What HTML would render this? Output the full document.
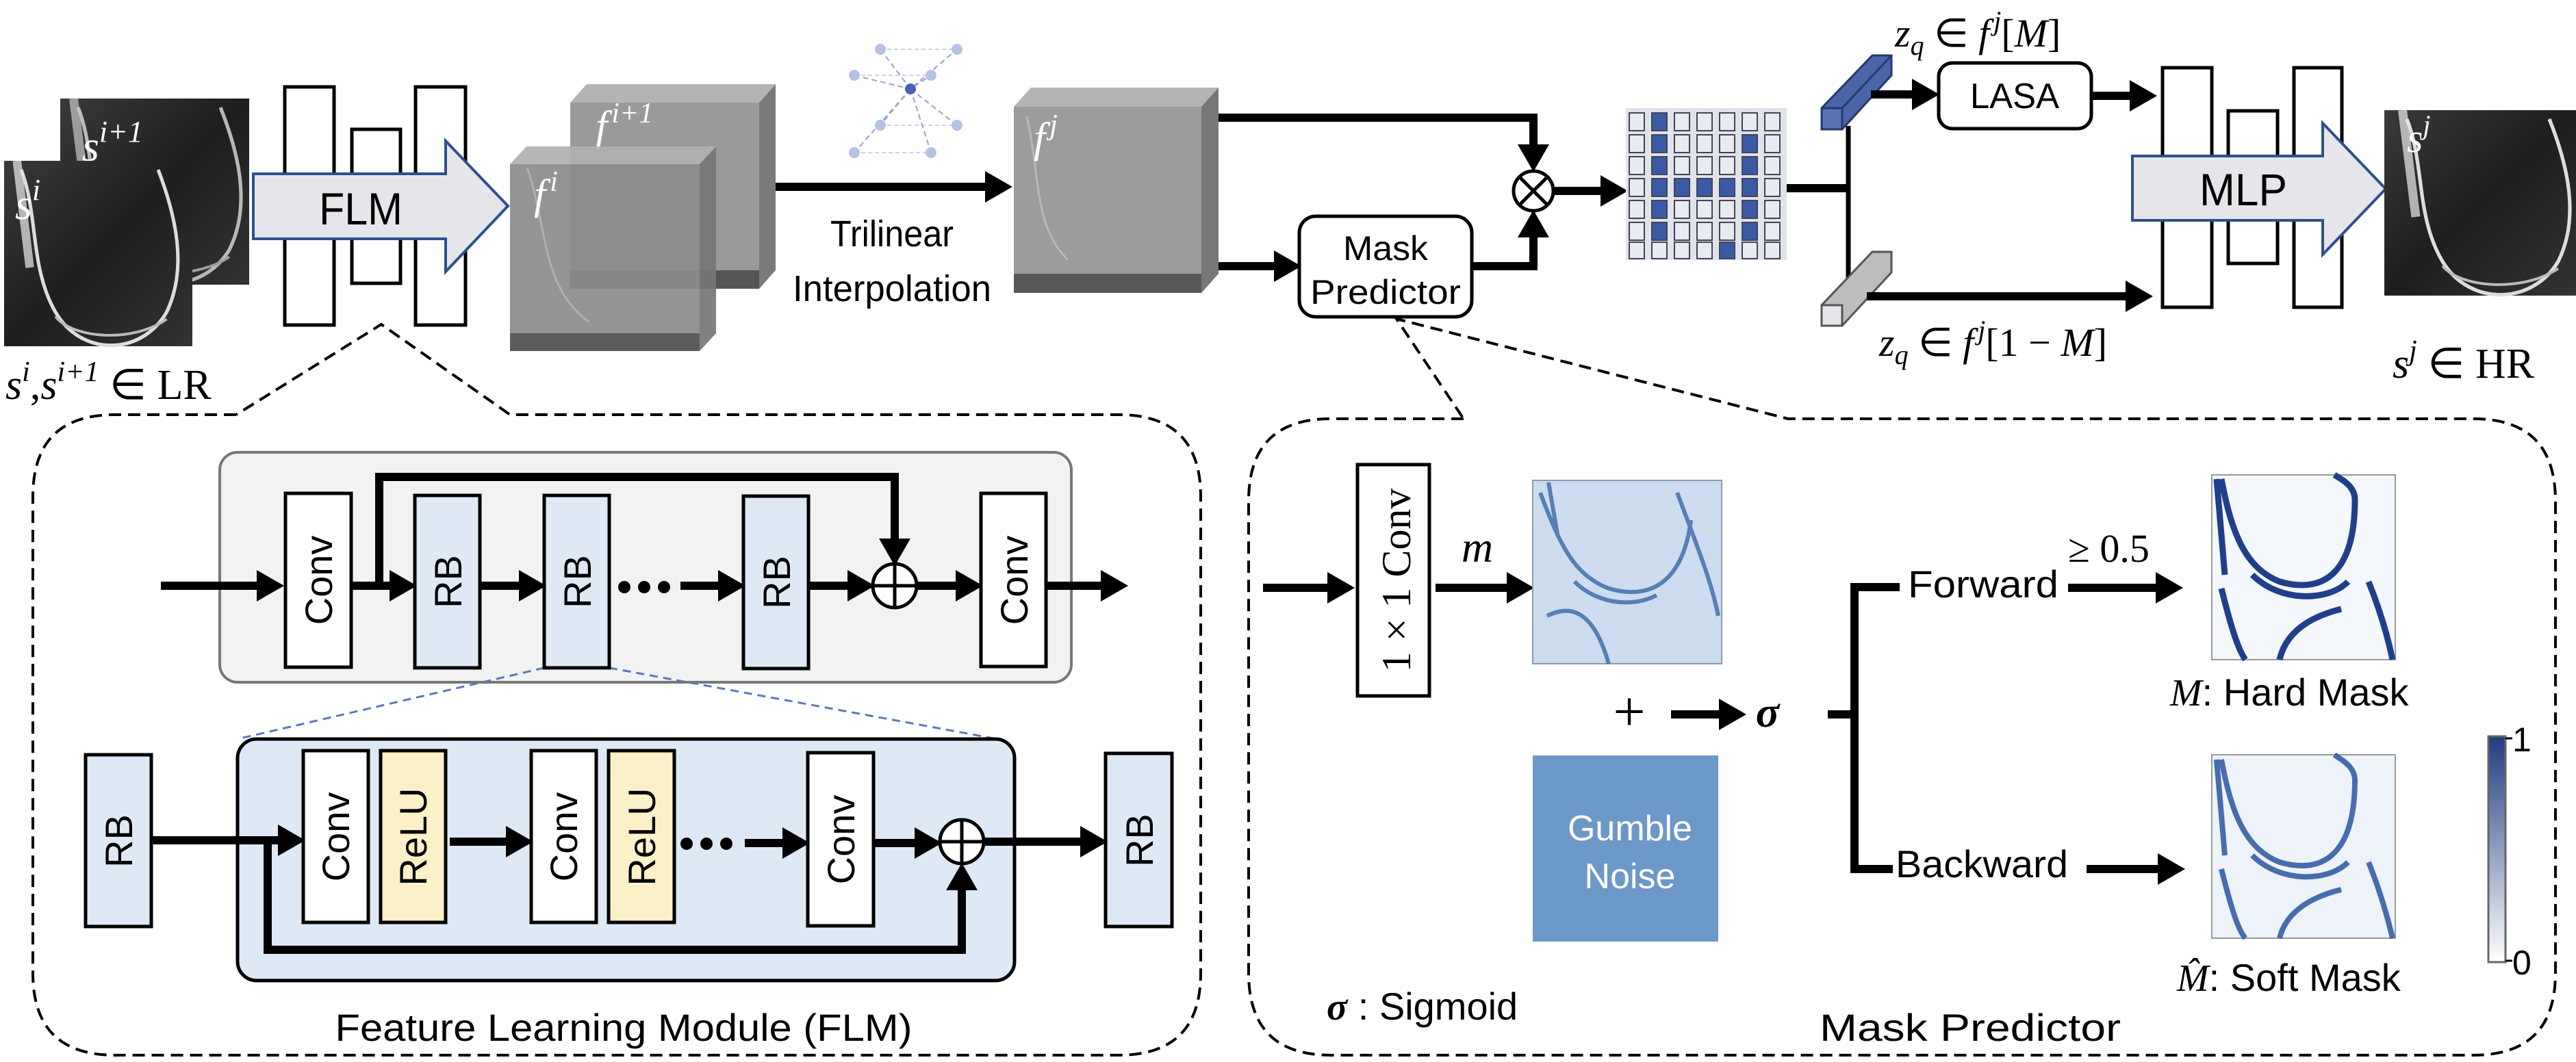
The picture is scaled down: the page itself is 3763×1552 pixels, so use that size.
<!DOCTYPE html>
<html><head><meta charset="utf-8"><style>html,body{margin:0;padding:0;background:#fff}svg{display:block}</style></head><body>
<svg xmlns="http://www.w3.org/2000/svg" width="3763" height="1552" viewBox="0 0 3763 1552" font-family="Liberation Sans, sans-serif">
<defs>
<marker id="ah" markerUnits="userSpaceOnUse" markerWidth="40" markerHeight="46" viewBox="0 0 40 46" refX="1" refY="23" orient="auto"><path d="M0,0 L40,23 L0,46 z" fill="#000"/></marker>
<linearGradient id="mri" x1="0" y1="0" x2="1" y2="1"><stop offset="0" stop-color="#3a3a3a"/><stop offset="0.5" stop-color="#1e1e1e"/><stop offset="1" stop-color="#333"/></linearGradient>
<linearGradient id="cb" x1="0" y1="0" x2="0" y2="1"><stop offset="0" stop-color="#1f3d7e"/><stop offset="1" stop-color="#ffffff"/></linearGradient>
<g id="knee">
<path d="M20,10 C40,60 30,120 60,170 C90,220 160,220 190,170 C215,120 200,60 180,10" fill="none" stroke="#ddd" stroke-width="4"/>
<path d="M60,175 C80,200 150,205 190,178" fill="none" stroke="#bbb" stroke-width="3"/>
<path d="M15,0 L30,120" stroke="#eee" stroke-width="10" opacity="0.7"/>
</g>
</defs>

<!-- LR images -->
<rect x="88" y="144" width="276" height="272" fill="url(#mri)"/>
<g transform="translate(88,144) scale(1.3,1.3)" opacity="0.8"><use href="#knee"/></g>
<text x="120" y="235" font-family="Liberation Serif, serif" font-style="italic" font-size="64" fill="#fff">s<tspan dy="-28" font-size="44">i+1</tspan></text>
<rect x="6" y="235" width="275" height="271" fill="url(#mri)"/>
<g transform="translate(6,235) scale(1.25,1.3)"><use href="#knee"/></g>
<text x="22" y="320" font-family="Liberation Serif, serif" font-style="italic" font-size="64" fill="#fff">s<tspan dy="-28" font-size="44">i</tspan></text>
<text x="8" y="583" font-family="Liberation Serif, serif" font-size="62"><tspan font-style="italic">s</tspan><tspan dy="-26" font-size="42" font-style="italic">i</tspan><tspan dy="26">,</tspan><tspan font-style="italic">s</tspan><tspan dy="-26" font-size="42" font-style="italic">i+1</tspan><tspan dy="26"> ∈ LR</tspan></text>

<!-- encoder bars -->
<g fill="#fff" stroke="#000" stroke-width="5">
<rect x="416" y="127" width="72" height="348"/><rect x="514" y="189" width="71" height="225"/><rect x="607" y="127" width="73" height="348"/>
</g>
<path d="M370,254 L651,254 L651,206 L742,301 L651,397 L651,349 L370,349 z" fill="#e6e6ea" stroke="#2f4f8f" stroke-width="4"/>
<text x="527" y="328" font-size="66" text-anchor="middle" textLength="122" lengthAdjust="spacingAndGlyphs">FLM</text>

<!-- f^{i+1} cube -->
<g>
<polygon points="833,150 857,123 1133,123 1109,150" fill="#b4b4b4"/>
<polygon points="1109,150 1133,123 1133,395 1109,422" fill="#7a7a7a"/>
<rect x="833" y="150" width="276" height="272" fill="#9a9a9a"/>
<rect x="833" y="395" width="276" height="27" fill="#555"/>
<text x="870" y="205" font-family="Liberation Serif, serif" font-style="italic" font-size="62" fill="#fff">f<tspan dx="6" dy="-26" font-size="42">i+1</tspan></text>
</g>
<!-- f^i cube -->
<g opacity="0.92">
<polygon points="745,240 769,214 1046,214 1022,240" fill="#b0b0b0"/>
<polygon points="1022,240 1046,214 1046,487 1022,513" fill="#777"/>
<rect x="745" y="240" width="277" height="273" fill="#8c8c8c"/>
<rect x="745" y="487" width="277" height="26" fill="#4f4f4f"/>
<path d="M770,245 C800,330 790,420 860,470" fill="none" stroke="#aaa" stroke-width="3"/>
</g>
<text x="780" y="305" font-family="Liberation Serif, serif" font-style="italic" font-size="62" fill="#fff">f<tspan dx="6" dy="-26" font-size="42">i</tspan></text>

<!-- interpolation icon -->
<g stroke="#8fa2d4" stroke-width="2" fill="none">
<path d="M1286,72 L1398,72 M1248,110 L1360,110 M1286,183 L1398,183 M1248,223 L1360,223" stroke="#ccd4ea" stroke-dasharray="6 4"/>
<path d="M1286,72 L1330,130 L1398,72 M1248,110 L1330,130 L1360,110 M1330,130 L1286,183 M1330,130 L1398,183 M1330,130 L1248,223 M1330,130 L1360,223" stroke-dasharray="8 5"/>
</g>
<g fill="#b5c2e6"><circle cx="1286" cy="72" r="8"/><circle cx="1398" cy="72" r="8"/><circle cx="1248" cy="110" r="8"/><circle cx="1360" cy="110" r="8"/><circle cx="1286" cy="183" r="8"/><circle cx="1398" cy="183" r="8"/><circle cx="1248" cy="223" r="8"/><circle cx="1360" cy="223" r="8"/></g>
<circle cx="1330" cy="130" r="8" fill="#4a62b3"/>

<line x1="1133" y1="273" x2="1440" y2="273" stroke="#000" stroke-width="12" marker-end="url(#ah)"/>
<text x="1303" y="360" font-size="54" text-anchor="middle" textLength="180" lengthAdjust="spacingAndGlyphs">Trilinear</text>
<text x="1303" y="440" font-size="54" text-anchor="middle" textLength="290" lengthAdjust="spacingAndGlyphs">Interpolation</text>

<!-- f^j cube -->
<polygon points="1481,156 1506,128 1780,128 1755,156" fill="#b4b4b4"/>
<polygon points="1755,156 1780,128 1780,400 1755,428" fill="#777"/>
<rect x="1481" y="156" width="274" height="272" fill="#9c9c9c"/>
<rect x="1481" y="400" width="274" height="28" fill="#585858"/>
<path d="M1500,170 C1520,260 1510,330 1560,380" fill="none" stroke="#b8b8b8" stroke-width="3"/>
<text x="1510" y="222" font-family="Liberation Serif, serif" font-style="italic" font-size="62" fill="#fff">f<tspan dx="6" dy="-26" font-size="42">j</tspan></text>

<!-- top branch to multiply -->
<polyline points="1780,172 2240,172 2240,212" fill="none" stroke="#000" stroke-width="12" marker-end="url(#ah)"/>
<line x1="1780" y1="389" x2="1862" y2="389" stroke="#000" stroke-width="12" marker-end="url(#ah)"/>
<rect x="1898" y="316" width="252" height="147" rx="24" fill="#fff" stroke="#000" stroke-width="5"/>
<text x="2024" y="380" font-size="50" text-anchor="middle" textLength="124" lengthAdjust="spacingAndGlyphs">Mask</text>
<text x="2024" y="444" font-size="50" text-anchor="middle" textLength="220" lengthAdjust="spacingAndGlyphs">Predictor</text>
<polyline points="2150,389 2240,389 2240,346" fill="none" stroke="#000" stroke-width="12" marker-end="url(#ah)"/>
<circle cx="2240" cy="279" r="29" fill="#fff" stroke="#000" stroke-width="5"/>
<path d="M2219.5,258.5 L2260.5,299.5 M2260.5,258.5 L2219.5,299.5" stroke="#000" stroke-width="5"/>
<line x1="2270" y1="279" x2="2339" y2="279" stroke="#000" stroke-width="12" marker-end="url(#ah)"/>

<!-- voxel grid -->
<rect x="2375" y="158" width="235" height="222" fill="#dfe3ea"/>
<g stroke="#445" stroke-width="2">
<g fill="#e8ebf2">
<rect x="2380" y="165" width="22" height="26"/><rect x="2413" y="165" width="22" height="26" fill="#3a5aa6"/><rect x="2446" y="165" width="22" height="26"/><rect x="2479" y="165" width="22" height="26"/><rect x="2512" y="165" width="22" height="26"/><rect x="2545" y="165" width="22" height="26"/><rect x="2578" y="165" width="22" height="26"/>
<rect x="2380" y="197" width="22" height="26"/><rect x="2413" y="197" width="22" height="26" fill="#3a5aa6"/><rect x="2446" y="197" width="22" height="26"/><rect x="2479" y="197" width="22" height="26"/><rect x="2512" y="197" width="22" height="26"/><rect x="2545" y="197" width="22" height="26" fill="#3a5aa6"/><rect x="2578" y="197" width="22" height="26"/>
<rect x="2380" y="229" width="22" height="26"/><rect x="2413" y="229" width="22" height="26" fill="#3a5aa6"/><rect x="2446" y="229" width="22" height="26"/><rect x="2479" y="229" width="22" height="26"/><rect x="2512" y="229" width="22" height="26"/><rect x="2545" y="229" width="22" height="26" fill="#3a5aa6"/><rect x="2578" y="229" width="22" height="26"/>
<rect x="2380" y="261" width="22" height="26"/><rect x="2413" y="261" width="22" height="26" fill="#3a5aa6"/><rect x="2446" y="261" width="22" height="26" fill="#3a5aa6"/><rect x="2479" y="261" width="22" height="26" fill="#3a5aa6"/><rect x="2512" y="261" width="22" height="26" fill="#3a5aa6"/><rect x="2545" y="261" width="22" height="26" fill="#3a5aa6"/><rect x="2578" y="261" width="22" height="26"/>
<rect x="2380" y="293" width="22" height="26"/><rect x="2413" y="293" width="22" height="26" fill="#3a5aa6"/><rect x="2446" y="293" width="22" height="26"/><rect x="2479" y="293" width="22" height="26"/><rect x="2512" y="293" width="22" height="26"/><rect x="2545" y="293" width="22" height="26" fill="#3a5aa6"/><rect x="2578" y="293" width="22" height="26"/>
<rect x="2380" y="325" width="22" height="26"/><rect x="2413" y="325" width="22" height="26" fill="#3a5aa6"/><rect x="2446" y="325" width="22" height="26"/><rect x="2479" y="325" width="22" height="26"/><rect x="2512" y="325" width="22" height="26"/><rect x="2545" y="325" width="22" height="26" fill="#3a5aa6"/><rect x="2578" y="325" width="22" height="26"/>
<rect x="2380" y="354" width="22" height="24"/><rect x="2413" y="354" width="22" height="24"/><rect x="2446" y="354" width="22" height="24"/><rect x="2479" y="354" width="22" height="24"/><rect x="2512" y="354" width="22" height="24" fill="#3a5aa6"/><rect x="2545" y="354" width="22" height="24"/><rect x="2578" y="354" width="22" height="24"/>
</g>
</g>

<line x1="2610" y1="275" x2="2700" y2="275" stroke="#000" stroke-width="12"/>
<line x1="2700" y1="184" x2="2700" y2="443" stroke="#000" stroke-width="7"/>
<polygon points="2661,189 2661,158 2735,81 2763,81 2763,110 2691,189" fill="#4a66a8" stroke="#26386a" stroke-width="3"/>
<line x1="2691" y1="158" x2="2763" y2="81" stroke="#26386a" stroke-width="3"/>
<rect x="2661" y="158" width="30" height="31" fill="#5874b4" stroke="#26386a" stroke-width="3"/>
<polygon points="2661,476 2661,446 2735,368 2763,368 2763,398 2691,476" fill="#bdbdbd" stroke="#555" stroke-width="3"/>
<rect x="2661" y="446" width="30" height="30" fill="#e6e6ea" stroke="#555" stroke-width="3"/>
<line x1="2733" y1="138" x2="2794" y2="138" stroke="#000" stroke-width="12" marker-end="url(#ah)"/>
<rect x="2832" y="92" width="223" height="96" rx="20" fill="#fff" stroke="#000" stroke-width="5"/>
<text x="2943" y="158" font-size="52" text-anchor="middle" textLength="130" lengthAdjust="spacingAndGlyphs">LASA</text>
<line x1="3057" y1="140" x2="3112" y2="140" stroke="#000" stroke-width="12" marker-end="url(#ah)"/>
<line x1="2727" y1="433" x2="3106" y2="433" stroke="#000" stroke-width="12" marker-end="url(#ah)"/>
<text x="2768" y="68" font-family="Liberation Serif, serif" font-size="58"><tspan font-style="italic">z</tspan><tspan dy="12" font-size="40" font-style="italic">q</tspan><tspan dy="-12"> ∈ </tspan><tspan font-style="italic">f</tspan><tspan dx="6" dy="-24" font-size="40" font-style="italic">j</tspan><tspan dy="24">[</tspan><tspan font-style="italic">M</tspan>]</text>
<text x="2745" y="520" font-family="Liberation Serif, serif" font-size="58"><tspan font-style="italic">z</tspan><tspan dy="12" font-size="40" font-style="italic">q</tspan><tspan dy="-12"> ∈ </tspan><tspan font-style="italic">f</tspan><tspan dx="6" dy="-24" font-size="40" font-style="italic">j</tspan><tspan dy="24">[1 − </tspan><tspan font-style="italic">M</tspan>]</text>

<!-- MLP -->
<g fill="#fff" stroke="#000" stroke-width="5">
<rect x="3159" y="99" width="72" height="350"/><rect x="3255" y="162" width="72" height="223"/><rect x="3351" y="99" width="70" height="350"/>
</g>
<path d="M3115,228 L3393,228 L3393,180 L3485,276 L3393,372 L3393,322 L3115,322 z" fill="#e6e6ea" stroke="#2f4f8f" stroke-width="4"/>
<text x="3277" y="300" font-size="66" text-anchor="middle" textLength="128" lengthAdjust="spacingAndGlyphs">MLP</text>
<rect x="3483" y="161" width="280" height="271" fill="url(#mri)"/>
<g transform="translate(3490,161) scale(1.3,1.3)"><use href="#knee"/></g>
<text x="3516" y="222" font-family="Liberation Serif, serif" font-style="italic" font-size="60" fill="#fff">s<tspan dy="-26" font-size="40">j</tspan></text>
<text x="3495" y="552" font-family="Liberation Serif, serif" font-size="62"><tspan font-style="italic">s</tspan><tspan dy="-26" font-size="42" font-style="italic">j</tspan><tspan dy="26"> ∈ HR</tspan></text>

<!-- dashed panels -->
<path d="M345,606 L168,606 Q48,606 48,726 L48,1422 Q48,1542 168,1542 L1634,1542 Q1754,1542 1754,1422 L1754,726 Q1754,606 1634,606 L745,606 L557,474 L345,606" fill="none" stroke="#000" stroke-width="4" stroke-dasharray="18 10"/>
<path d="M2138,612 L1944,612 Q1824,612 1824,732 L1824,1422 Q1824,1542 1944,1542 L3613,1542 Q3733,1542 3733,1422 L3733,732 Q3733,612 3613,612 L2612,612 L2040,466 L2138,612" fill="none" stroke="#000" stroke-width="4" stroke-dasharray="18 10"/>

<!-- FLM detail -->
<rect x="321" y="661" width="1244" height="336" rx="26" fill="#f2f2f2" stroke="#777" stroke-width="4"/>
<line x1="795" y1="976" x2="347" y2="1080" stroke="#5a78c0" stroke-width="3" stroke-dasharray="12 8"/>
<line x1="890" y1="976" x2="1457" y2="1080" stroke="#5a78c0" stroke-width="3" stroke-dasharray="12 8"/>
<rect x="347" y="1080" width="1135" height="353" rx="28" fill="#dfe9f5" stroke="#000" stroke-width="5"/>
<g stroke="#000" stroke-width="5">
<rect x="417" y="721" width="96" height="254" fill="#fff"/>
<rect x="606" y="724" width="95" height="252" fill="#dfe9f5"/>
<rect x="795" y="724" width="95" height="252" fill="#dfe9f5"/>
<rect x="1086" y="725" width="95" height="252" fill="#dfe9f5"/>
<rect x="1433" y="721" width="95" height="253" fill="#fff"/>
<rect x="125" y="1103" width="96" height="251" fill="#dfe9f5"/>
<rect x="443" y="1097" width="95" height="251" fill="#fff"/>
<rect x="556" y="1097" width="95" height="251" fill="#fcf0c9"/>
<rect x="776" y="1097" width="95" height="251" fill="#fff"/>
<rect x="889" y="1097" width="96" height="251" fill="#fcf0c9"/>
<rect x="1180" y="1100" width="96" height="253" fill="#fff"/>
<rect x="1615" y="1101" width="97" height="253" fill="#dfe9f5"/>
</g>
<g font-size="56" text-anchor="middle">
<text transform="translate(485,848) rotate(-90)">Conv</text>
<text transform="translate(674,850) rotate(-90)">RB</text>
<text transform="translate(863,850) rotate(-90)">RB</text>
<text transform="translate(1154,851) rotate(-90)">RB</text>
<text transform="translate(1501,848) rotate(-90)">Conv</text>
<text transform="translate(193,1229) rotate(-90)">RB</text>
<text transform="translate(510,1223) rotate(-90)">Conv</text>
<text transform="translate(623,1223) rotate(-90)">ReLU</text>
<text transform="translate(843,1223) rotate(-90)">Conv</text>
<text transform="translate(957,1223) rotate(-90)">ReLU</text>
<text transform="translate(1248,1227) rotate(-90)">Conv</text>
<text transform="translate(1684,1228) rotate(-90)">RB</text>
</g>
<g stroke="#000" stroke-width="12" fill="none">
<line x1="235" y1="856" x2="376" y2="856" marker-end="url(#ah)"/>
<line x1="513" y1="856" x2="570" y2="856" marker-end="url(#ah)"/>
<line x1="701" y1="856" x2="759" y2="856" marker-end="url(#ah)"/>
<line x1="994" y1="856" x2="1050" y2="856" marker-end="url(#ah)"/>
<line x1="1181" y1="856" x2="1239" y2="856" marker-end="url(#ah)"/>
<line x1="1339" y1="856" x2="1397" y2="856" marker-end="url(#ah)"/>
<line x1="1528" y1="856" x2="1609" y2="856" marker-end="url(#ah)"/>
<polyline points="554,856 554,697 1307,697 1307,788" marker-end="url(#ah)"/>
<line x1="221" y1="1228" x2="407" y2="1228" marker-end="url(#ah)"/>
<line x1="657" y1="1230" x2="740" y2="1230" marker-end="url(#ah)"/>
<line x1="1088" y1="1232" x2="1144" y2="1232" marker-end="url(#ah)"/>
<line x1="1276" y1="1232" x2="1337" y2="1232" marker-end="url(#ah)"/>
<line x1="1437" y1="1230" x2="1579" y2="1230" marker-end="url(#ah)"/>
<polyline points="391,1233 391,1388 1405,1388 1405,1300" marker-end="url(#ah)"/>
</g>
<g fill="#000"><circle cx="912" cy="858" r="9"/><circle cx="941" cy="858" r="9"/><circle cx="970" cy="858" r="9"/><circle cx="1003" cy="1233" r="9"/><circle cx="1032" cy="1233" r="9"/><circle cx="1061" cy="1233" r="9"/></g>
<g fill="#fff" stroke="#000" stroke-width="5">
<circle cx="1307" cy="856" r="32"/><circle cx="1405" cy="1230" r="32"/>
</g>
<path d="M1275,856 H1339 M1307,824 V888 M1373,1230 H1437 M1405,1198 V1262" stroke="#000" stroke-width="5"/>
<text x="911" y="1521" font-size="56" text-anchor="middle" textLength="843" lengthAdjust="spacingAndGlyphs">Feature Learning Module (FLM)</text>

<!-- Mask predictor detail -->
<line x1="1845" y1="859" x2="1940" y2="859" stroke="#000" stroke-width="12" marker-end="url(#ah)"/>
<rect x="1983" y="679" width="105" height="338" fill="#fff" stroke="#000" stroke-width="5"/>
<text transform="translate(2060,848) rotate(-90)" font-family="Liberation Serif, serif" font-size="60" text-anchor="middle">1 × 1 Conv</text>
<line x1="2097" y1="859" x2="2202" y2="859" stroke="#000" stroke-width="12" marker-end="url(#ah)"/>
<text x="2158" y="821" font-family="Liberation Serif, serif" font-style="italic" font-size="64" text-anchor="middle">m</text>
<rect x="2239" y="702" width="276" height="268" fill="#cddcee" stroke="#8a9bb0" stroke-width="2"/>
<path d="M2250,720 C2280,800 2300,840 2350,860 C2420,880 2460,840 2470,760 M2300,850 C2330,880 2380,890 2420,870 M2260,900 C2300,880 2330,900 2350,970 M2450,720 C2480,800 2500,850 2510,900 M2262,705 L2275,780" fill="none" stroke="#3f6ead" stroke-width="6" opacity="0.85"/>
<text x="2380" y="1068" font-family="Liberation Serif, serif" font-size="84" text-anchor="middle">+</text>
<line x1="2441" y1="1044" x2="2512" y2="1044" stroke="#000" stroke-width="12" marker-end="url(#ah)"/>
<text x="2582" y="1062" font-family="Liberation Serif, serif" font-style="italic" font-weight="bold" font-size="64" text-anchor="middle">σ</text>
<rect x="2239" y="1104" width="271" height="272" fill="#6c98c8"/>
<text x="2381" y="1228" font-size="52" fill="#fff" text-anchor="middle">Gumble</text>
<text x="2381" y="1298" font-size="52" fill="#fff" text-anchor="middle">Noise</text>
<text x="1938" y="1490" font-size="56"><tspan font-family="Liberation Serif, serif" font-style="italic" font-weight="bold">σ</tspan> : Sigmoid</text>
<text x="2878" y="1521" font-size="56" text-anchor="middle" textLength="440" lengthAdjust="spacingAndGlyphs">Mask Predictor</text>
<line x1="2670" y1="1044" x2="2709" y2="1044" stroke="#000" stroke-width="12"/>
<polyline points="2775,858 2709,858 2709,1270 2765,1270" fill="none" stroke="#000" stroke-width="12"/>
<text x="2787" y="873" font-size="56" textLength="220" lengthAdjust="spacingAndGlyphs">Forward</text>
<text x="2769" y="1282" font-size="56" textLength="252" lengthAdjust="spacingAndGlyphs">Backward</text>
<line x1="3021" y1="859" x2="3150" y2="859" stroke="#000" stroke-width="12" marker-end="url(#ah)"/>
<line x1="3048" y1="1270" x2="3153" y2="1270" stroke="#000" stroke-width="12" marker-end="url(#ah)"/>
<text x="3021" y="821" font-family="Liberation Serif, serif" font-size="58">≥ 0.5</text>
<rect x="3231" y="694" width="268" height="270" fill="#f4f7fc" stroke="#999" stroke-width="2"/>
<path d="M3245,700 C3260,780 3280,830 3330,850 C3400,870 3440,830 3440,730 C3440,710 3420,700 3410,694 M3290,840 C3330,880 3400,880 3430,850 M3245,860 C3260,920 3270,950 3280,964 M3460,850 C3480,900 3490,940 3495,964 M3330,964 C3340,920 3380,900 3420,890 M3238,700 L3250,840" fill="none" stroke="#1f3f8a" stroke-width="9"/>
<text x="3170" y="1031" font-size="56"><tspan font-family="Liberation Serif, serif" font-style="italic">M</tspan>: Hard Mask</text>
<rect x="3231" y="1103" width="268" height="268" fill="#eef3fa" stroke="#999" stroke-width="2"/>
<path d="M3245,1110 C3260,1190 3280,1240 3330,1260 C3400,1280 3440,1240 3440,1140 C3440,1120 3420,1110 3410,1103 M3290,1250 C3330,1290 3400,1290 3430,1260 M3245,1270 C3260,1330 3270,1360 3280,1371 M3460,1260 C3480,1310 3490,1350 3495,1371 M3330,1371 C3340,1330 3380,1310 3420,1300 M3238,1110 L3250,1250" fill="none" stroke="#2a55a0" stroke-width="8" opacity="0.85"/>
<text x="3180" y="1448" font-size="56"><tspan font-family="Liberation Serif, serif" font-style="italic">M̂</tspan>: Soft Mask</text>
<rect x="3635" y="1076" width="25" height="330" fill="url(#cb)" stroke="#666" stroke-width="3"/>
<line x1="3660" y1="1079" x2="3670" y2="1079" stroke="#000" stroke-width="3"/>
<line x1="3660" y1="1404" x2="3670" y2="1404" stroke="#000" stroke-width="3"/>
<text x="3670" y="1098" font-size="50">1</text>
<text x="3670" y="1424" font-size="50">0</text>
</svg>
</body></html>
